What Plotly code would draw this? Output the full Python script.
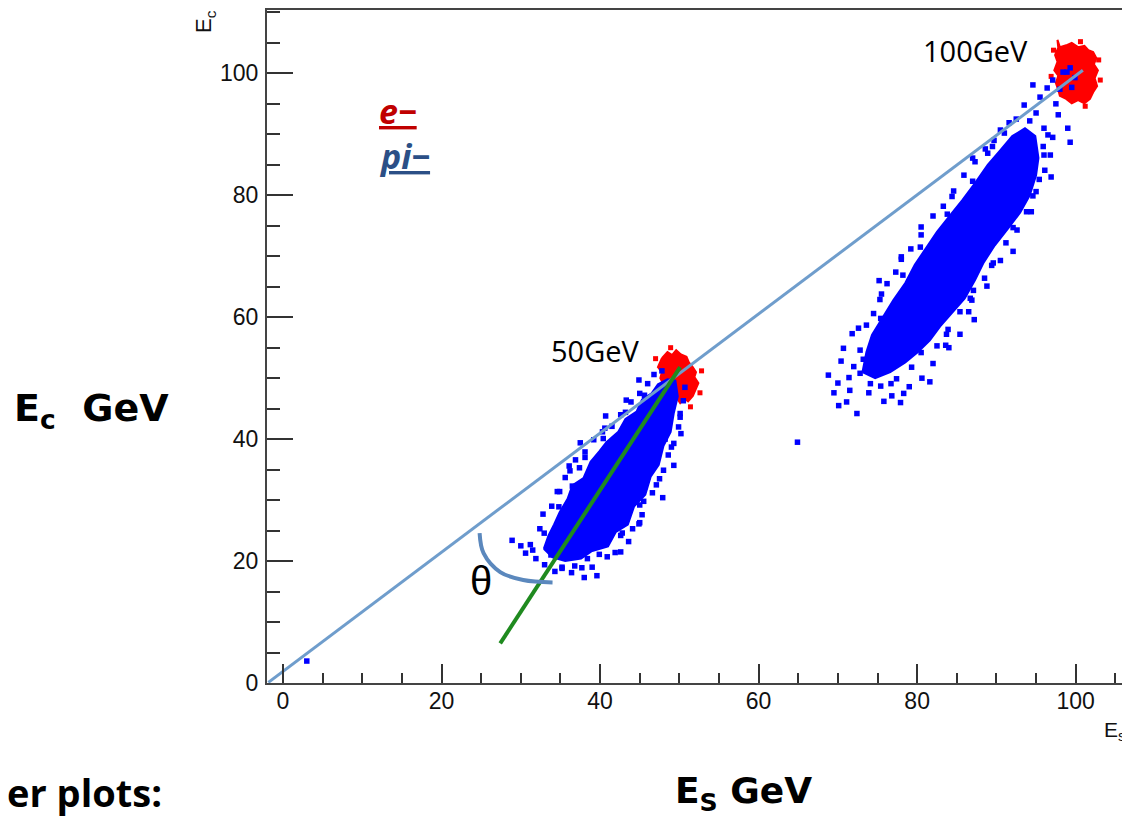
import plotly.graph_objects as go

# ---------------- data ----------------
# dense cores (outline of the solid regions), (E_s, E_c) in GeV
pi50_core_x = [32.9, 33.5, 34.2, 34.9, 35.9, 36.5, 37.9, 38.8, 39.9, 40.8, 42.3, 43.2, 44.6, 45.3, 46.5, 47.3,
               48.5, 49.5, 49.8, 49.3, 48.9, 48.0, 47.4, 46.4, 45.7, 44.3, 43.5, 42.0, 41.0, 38.9, 37.6, 35.6, 34.0]
pi50_core_y = [22.0, 24.2, 26.0, 28.0, 30.2, 32.4, 33.6, 36.3, 38.0, 39.5, 41.2, 43.3, 44.5, 46.5, 47.5, 49.0,
               49.8, 49.6, 47.0, 44.3, 41.2, 38.9, 35.8, 33.9, 30.9, 29.0, 26.0, 24.8, 22.4, 21.6, 20.4, 20.0, 20.6]

pi100_core_x = [73.1, 73.6, 74.3, 75.8, 77.0, 78.5, 79.7, 81.1, 82.5, 84.2, 85.7, 87.3, 88.9, 90.5, 92.0, 93.6,
                94.9, 95.3, 95.0, 94.2, 93.0, 91.5, 89.8, 88.4, 87.3, 86.0, 84.4, 82.9, 81.6, 80.1, 78.5, 76.6, 74.7]
pi100_core_y = [51.0, 54.3, 57.1, 60.3, 62.8, 65.6, 68.6, 71.3, 74.0, 76.8, 79.2, 82.0, 85.0, 87.4, 89.7, 91.0,
                89.7, 86.1, 83.3, 80.0, 77.2, 74.6, 71.8, 69.0, 66.1, 63.1, 60.7, 58.5, 56.2, 54.3, 52.6, 51.0, 50.0]

e50_core_x = [47.8, 48.5, 49.1, 49.6, 50.2, 50.9, 51.2, 51.6, 52.1, 51.9, 52.4, 52.0, 51.7, 51.1, 50.6, 50.1,
              49.6, 49.0, 48.6, 48.0, 47.6, 47.8, 47.3]
e50_core_y = [53.3, 54.3, 53.8, 54.6, 53.9, 53.5, 52.6, 52.0, 51.0, 50.2, 49.2, 48.0, 47.1, 46.2, 46.7, 45.9,
              46.9, 47.5, 48.5, 49.0, 50.0, 51.0, 51.8]

e100_core_x = [97.7, 98.0, 98.8, 99.5, 100.3, 101.1, 101.6, 102.2, 102.6, 102.3, 102.8, 102.4, 102.7, 102.2,
               101.8, 101.1, 100.3, 99.5, 98.8, 98.0, 97.8, 97.5, 97.8, 97.3, 97.7, 97.4, 97.8]
e100_core_y = [105.5, 104.3, 104.6, 105.0, 104.3, 104.5, 103.8, 103.5, 102.5, 101.5, 100.5, 99.2, 97.9, 96.9,
               95.8, 95.1, 95.6, 95.1, 95.8, 96.3, 97.3, 98.4, 99.6, 100.5, 101.9, 103.0, 104.2]

# individual scattered events (pi-)
pi_x = [3.0, 64.9,
        28.9, 31.2, 31.9, 32.4, 33.0, 34.3, 36.4, 37.7, 39.0, 39.6, 40.9, 41.9, 43.6, 44.1, 45.3, 45.5,
        46.6, 47.1, 48.0, 48.6, 49.3, 49.9, 50.1, 50.5, 32.8, 33.9, 34.6, 35.6, 36.2, 37.4, 38.1, 39.2,
        40.3, 41.5, 42.6, 43.9, 45.0, 46.0, 46.8, 47.8, 30.6, 35.2, 42.8, 44.9, 38.4, 36.9, 48.2, 50.7,
        32.95, 34.8, 34.9, 36.5, 36.1, 38.1, 37.5, 40.4, 40.6, 40.7, 43.2, 43.3, 45.6, 44.9,
        39.9, 42.6, 42.6, 45.0, 45.0, 47.9, 47.5, 49.3, 49.0, 50.2, 50.1,
        35.2, 36.8, 38.0, 33.8, 31.5, 30.0,
        68.8, 70.7, 70.1, 72.4, 71.1, 71.5, 76.8, 78.3, 80.6, 81.6, 72.0, 72.8, 74.1, 71.8, 73.6, 74.5,
        75.5, 76.2, 77.3, 78.0, 79.2, 80.5, 82.0, 83.3, 84.6, 85.9, 87.3, 88.6, 83.7, 85.4, 82.5, 86.9,
        85.4, 86.5, 87.1, 88.5, 89.6, 90.5, 91.2, 92.6, 93.8, 94.6, 95.4, 96.1, 79.0, 82.0, 84.0, 77.4,
        75.4, 73.2, 70.4,
        72.8, 72.6, 75.4, 75.3, 75.2, 78.2, 78.0, 80.4, 80.5, 83.8, 84.4, 87.0, 87.0, 89.5,
        79.3, 80.5, 83.6, 83.9, 87.2, 86.7, 88.8, 89.4, 92.1, 92.1, 94.4, 95.0, 96.9, 96.0,
        73.9, 75.8, 77.9, 70.0, 69.5, 71.4, 76.7,
        94.6, 96.4, 95.5, 90.5, 88.9, 99.0, 99.3, 97.8, 96.5, 97.1, 98.9, 99.5, 93.0, 96.8, 95.0, 93.5,
        94.2, 96.0, 97.5, 95.9, 92.5, 91.6, 98.4, 99.3, 97.1, 99.9, 98.0, 89.7, 91.0]
pi_y = [3.6, 39.5,
        23.4, 22.7, 20.4, 25.3, 19.4, 18.3, 18.1, 18.9, 19.0, 17.6, 20.7, 21.4, 23.2, 25.3, 27.6, 29.8,
        31.2, 32.5, 34.9, 37.4, 39.3, 42.0, 44.2, 46.3, 27.7, 29.0, 31.4, 33.7, 34.8, 35.3, 37.9, 39.9,
        41.2, 42.1, 44.0, 46.1, 47.5, 49.1, 50.6, 51.2, 21.3, 19.0, 24.6, 26.1, 20.4, 36.6, 40.0, 48.5,
        24.58, 28.9, 31.4, 32.3, 35.6, 37.0, 39.4, 40.1, 41.8, 43.8, 44.4, 46.4, 47.2, 49.7,
        21.1, 21.5, 24.2, 26.3, 29.2, 30.4, 33.5, 35.7, 38.7, 40.9, 43.6,
        18.8, 19.2, 17.3, 21.0, 21.8, 22.5,
        50.5, 54.9, 45.5, 44.2, 46.1, 48.0, 47.1, 47.5, 50.0, 49.4, 51.9, 50.8, 49.1, 57.3, 58.7, 60.6,
        63.8, 65.5, 67.4, 69.9, 71.2, 73.5, 76.6, 78.2, 80.7, 83.3, 85.5, 87.6, 57.2, 57.2, 55.3, 62.8,
        60.9, 60.9, 64.4, 66.4, 68.9, 69.3, 72.2, 74.3, 77.3, 79.9, 82.6, 84.1, 48.6, 52.4, 55.0, 49.9,
        48.7, 53.1, 52.8,
        54.6, 58.2, 59.8, 62.9, 66.0, 66.9, 69.5, 71.5, 74.8, 76.9, 79.8, 82.3, 86.1, 88.0,
        51.8, 54.2, 55.4, 58.0, 59.6, 63.1, 65.1, 68.5, 70.8, 74.7, 77.3, 80.6, 83.0, 86.6,
        47.6, 46.2, 46.0, 49.2, 47.6, 50.1, 49.1,
        98.1, 97.6, 96.1, 90.7, 86.9, 91.0, 88.7, 93.2, 89.9, 89.5, 100.2, 97.7, 87.9, 86.6, 93.5, 94.8,
        92.2, 91.0, 95.0, 88.0, 92.5, 91.9, 100.2, 100.9, 98.9, 99.3, 97.4, 89.0, 90.2]

# individual scattered events (e-)
e_x = [45.5, 47.0, 52.6, 51.4, 48.9, 52.8, 97.2, 103.1, 102.9, 101.2, 96.9, 100.6]
e_y = [45.4, 53.2, 47.6, 45.3, 55.0, 51.2, 103.8, 98.9, 102.2, 94.6, 99.5, 105.2]

# drawn guide lines
diag_x = [-1.85, 100.9]
diag_y = [0.1, 100.5]
fit_x = [27.4, 50.1]
fit_y = [6.5, 51.8]
arc_x = [24.8, 25.3, 27.4, 30.3, 34.0]
arc_y = [24.6, 21.3, 18.2, 16.9, 16.5]

x_ticks = [0, 20, 40, 60, 80, 100]
y_ticks = [0, 20, 40, 60, 80, 100]

# ---------------- figure ----------------
BLUE = "#0000ff"
RED = "#ff0000"
fig = go.Figure()


def core(xs, ys, color):
    fig.add_trace(go.Scatter(x=xs + xs[:1], y=ys + ys[:1], mode="lines", fill="toself",
                             fillcolor=color, line=dict(color=color, width=2),
                             hoverinfo="skip", showlegend=False))


core(e50_core_x, e50_core_y, RED)
core(e100_core_x, e100_core_y, RED)
fig.add_trace(go.Scatter(x=e_x, y=e_y, mode="markers", showlegend=False,
                         marker=dict(symbol="square", size=5, color=RED, line=dict(width=0))))
core(pi50_core_x, pi50_core_y, BLUE)
core(pi100_core_x, pi100_core_y, BLUE)
fig.add_trace(go.Scatter(x=pi_x, y=pi_y, mode="markers", showlegend=False,
                         marker=dict(symbol="square", size=5.5, color=BLUE, line=dict(width=0))))

fig.add_trace(go.Scatter(x=diag_x, y=diag_y, mode="lines", showlegend=False,
                         line=dict(color="#6f9dcc", width=3)))
fig.add_trace(go.Scatter(x=fit_x, y=fit_y, mode="lines", showlegend=False,
                         line=dict(color="#1f8a1f", width=4)))
fig.add_trace(go.Scatter(x=arc_x, y=arc_y, mode="lines", showlegend=False,
                         line=dict(color="#5b88bd", width=4, shape="spline")))

# page has an 8 px body margin: figure coordinates = page coordinates - 8
OFF = 8
W, H = 1130 - OFF, 818 - OFF
L, R, T, B = 267 - OFF, 1130 - OFF, 10 - OFF, 683 - OFF


def px(x):
    return (x - OFF - L) / (R - L)


def py(y):
    return (B - (y - OFF)) / (B - T)


tickfont = dict(family="Liberation Sans, Arial, sans-serif", size=23, color="#111")
fig.update_xaxes(range=[-2.02, 106.85], tickvals=x_ticks, ticks="inside", ticklen=19, tickwidth=1.5,
                 tickcolor="#333", showline=True, linecolor="#444", linewidth=2, mirror=True,
                 showgrid=False, zeroline=False, tickfont=tickfont, ticklabelstandoff=-4,
                 minor=dict(dtick=5, tick0=0, ticks="inside", ticklen=10, tickwidth=1.5, tickcolor="#333"))
fig.update_yaxes(range=[0, 110.39], tickvals=y_ticks, ticks="inside", ticklen=26, tickwidth=1.5,
                 tickcolor="#333", showline=True, linecolor="#444", linewidth=2,
                 showgrid=False, zeroline=False, tickfont=tickfont, ticklabelstandoff=2,
                 minor=dict(dtick=5, tick0=0, ticks="inside", ticklen=13, tickwidth=1.5, tickcolor="#333"))

label = dict(family="Open Sans, sans-serif", size=29, color="#000")
ann = [
    dict(x=87.3, y=103.8, xref="x", yref="y", text="100GeV", showarrow=False, font=label),
    dict(x=39.4, y=54.6, xref="x", yref="y", text="50GeV", showarrow=False, font=label),
    dict(x=25.0, y=16.7, xref="x", yref="y", text="θ", showarrow=False,
         font=dict(family="Liberation Sans, Arial, sans-serif", size=40, color="#000")),
    dict(x=11.8, y=93.9, xref="x", yref="y", xanchor="left", text="<b><i><u>e−</u></i></b>", showarrow=False,
         font=dict(family="Open Sans, sans-serif", size=34, color="#c00000")),
    dict(x=11.8, y=86.4, xref="x", yref="y", xanchor="left", text="<b><i><u>pi−</u></i></b>", showarrow=False,
         font=dict(family="Open Sans, sans-serif", size=34, color="#2b4f86")),
    dict(x=px(205), y=py(22), xref="paper", yref="paper", xanchor="center", yanchor="middle",
         text="E<sub>c</sub>", textangle=-90, showarrow=False,
         font=dict(family="Liberation Sans, Arial, sans-serif", size=22, color="#111")),
    dict(x=px(1127), y=py(731), xref="paper", yref="paper", xanchor="right", yanchor="middle",
         text="E<sub>s</sub>", showarrow=False,
         font=dict(family="Liberation Sans, Arial, sans-serif", size=21, color="#111")),
    dict(x=px(12), y=py(410), xref="paper", yref="paper", xanchor="left", yanchor="middle",
         text="<b>E<sub>c</sub>  GeV</b>", showarrow=False,
         font=dict(family="DejaVu Sans, sans-serif", size=38, color="#000")),
    dict(x=px(673), y=py(793), xref="paper", yref="paper", xanchor="left", yanchor="middle",
         text="<b>E<sub>S</sub> GeV</b>", showarrow=False,
         font=dict(family="DejaVu Sans, sans-serif", size=36, color="#000")),
    dict(x=px(164), y=py(792), xref="paper", yref="paper", xanchor="right", yanchor="middle",
         text="<b>er plots:</b>", showarrow=False,
         font=dict(family="Open Sans, sans-serif", size=38, color="#000")),
]

fig.update_layout(width=W, height=H, margin=dict(l=L, r=W - R, t=T, b=H - B),
                  paper_bgcolor="white", plot_bgcolor="white", annotations=ann, showlegend=False)

fig.write_html("out.html")
